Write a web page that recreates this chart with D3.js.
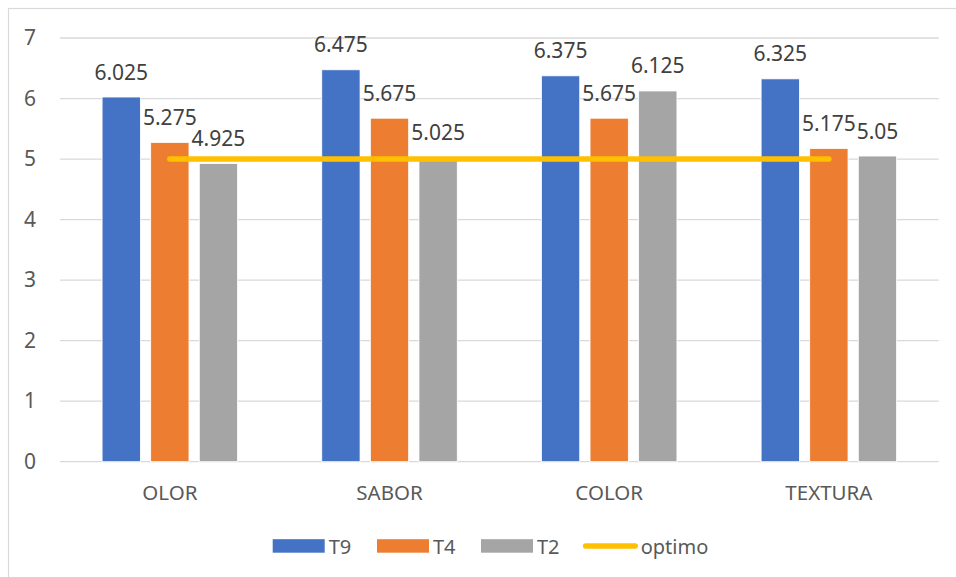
<!DOCTYPE html>
<html>
<head>
<meta charset="utf-8">
<script src="https://cdn.jsdelivr.net/npm/d3@7"></script>
<style>
  html, body { margin: 0; padding: 0; background: #fff; }
  svg { display: block; font-family: "Noto Sans", "Open Sans", sans-serif; }
</style>
</head>
<body>
<svg id="chart" width="956" height="577"></svg>
<script>
// Sensory scores per attribute for each treatment
const categories = ["OLOR", "SABOR", "COLOR", "TEXTURA"];
const seriesNames = ["T9", "T4", "T2"];
const t9 = [6.025, 6.475, 6.375, 6.325];
const t4 = [5.275, 5.675, 5.675, 5.175];
const t2 = [4.925, 5.025, 6.125, 5.05];
const optimo = [5, 5, 5, 5];
const yTicks = [0, 1, 2, 3, 4, 5, 6, 7];

const seriesValues = [t9, t4, t2];
const colors = { T9: "#4472C4", T4: "#ED7D31", T2: "#A5A5A5", optimo: "#FFC000" };

const svg = d3.select("#chart");

// Chart frame
svg.append("rect")
  .attr("x", 8.5).attr("y", 8.5)
  .attr("width", 960).attr("height", 600)
  .attr("fill", "none").attr("stroke", "#d9d9d9").attr("stroke-width", 1.2);

const plot = { left: 60, right: 938.7, top: 38, bottom: 461.7 };

const x0 = d3.scaleBand().domain(categories).range([plot.left, plot.right]).padding(0);
const x1 = d3.scaleBand().domain(seriesNames).range([0, x0.bandwidth()])
  .paddingInner(0.212).paddingOuter(0.866);
const y = d3.scaleLinear().domain([0, 7]).range([plot.bottom, plot.top]);

// Gridlines
svg.append("g").selectAll("line").data(yTicks).join("line")
  .attr("x1", plot.left).attr("x2", plot.right)
  .attr("y1", d => y(d)).attr("y2", d => y(d))
  .attr("stroke", "#d9d9d9").attr("stroke-width", 1.3);

// Y axis labels
const yAxis = d3.axisLeft(y).tickValues(yTicks).tickSize(0).tickPadding(0).tickFormat(d3.format("d"));
const yg = svg.append("g").attr("transform", `translate(${plot.left - 24},0)`).call(yAxis);
yg.select(".domain").remove();
yg.selectAll("text").attr("fill", "#595959").style("font-size", "21px")
  .style("font-family", "'Noto Sans', sans-serif");

// X axis labels
const xAxis = d3.axisBottom(x0).tickSize(0).tickPadding(0);
const xg = svg.append("g").attr("transform", `translate(0,${plot.bottom})`).call(xAxis);
xg.select(".domain").remove();
xg.selectAll("text").attr("fill", "#595959").style("font-size", "20.5px")
  .style("font-family", "'Noto Sans', sans-serif")
  .attr("dy", null).attr("y", 38.5);

// Bars
const barData = [];
categories.forEach((c, i) => {
  seriesNames.forEach((s, j) => barData.push({ cat: c, series: s, value: seriesValues[j][i] }));
});

const bars = svg.append("g");
bars.selectAll("rect").data(barData).join("rect")
  .attr("x", d => x0(d.cat) + x1(d.series))
  .attr("width", x1.bandwidth())
  .attr("y", d => y(d.value))
  .attr("height", d => y(0) - y(d.value))
  .attr("fill", d => colors[d.series])
  .attr("stroke", "#fff").attr("stroke-width", 0.8);

// Value labels
svg.append("g").selectAll("text").data(barData).join("text")
  .attr("x", d => x0(d.cat) + x1(d.series) + x1.bandwidth() / 2)
  .attr("y", d => y(d.value) - 17.5)
  .attr("text-anchor", "middle")
  .attr("fill", "#404040").style("font-size", "21px")
  .text(d => String(d.value));

// Optimum line
const line = d3.line()
  .x((d, i) => x0(categories[i]) + x0.bandwidth() / 2)
  .y(d => y(d));
svg.append("path").datum(optimo)
  .attr("d", line)
  .attr("fill", "none").attr("stroke", colors.optimo)
  .attr("stroke-width", 5.5).attr("stroke-linecap", "round");

// Legend
const legend = svg.append("g");
const legendItems = [
  { name: "T9", x: 272.7, type: "box" },
  { name: "T4", x: 377, type: "box" },
  { name: "T2", x: 481, type: "box" },
  { name: "optimo", x: 582.7, type: "line" }
];
legendItems.forEach(it => {
  if (it.type === "box") {
    legend.append("rect").attr("x", it.x).attr("y", 539.2)
      .attr("width", 52).attr("height", 13.5).attr("fill", colors[it.name]);
    legend.append("text").attr("x", it.x + 56).attr("y", 553.5)
      .attr("fill", "#595959").style("font-size", "20px").text(it.name);
  } else {
    legend.append("line").attr("x1", it.x + 3).attr("x2", it.x + 52.5)
      .attr("y1", 546).attr("y2", 546)
      .attr("stroke", colors.optimo).attr("stroke-width", 5.5).attr("stroke-linecap", "round");
    legend.append("text").attr("x", it.x + 58).attr("y", 553.5)
      .attr("fill", "#595959").style("font-size", "20px").text(it.name);
  }
});
</script>
</body>
</html>
